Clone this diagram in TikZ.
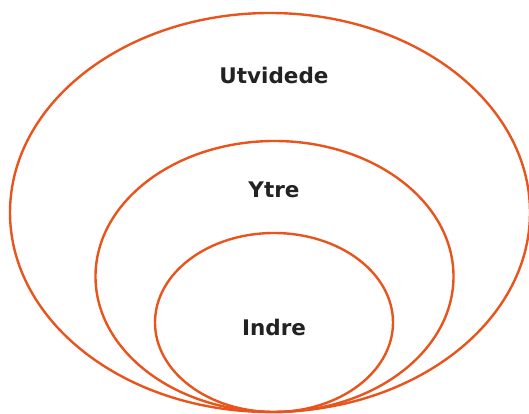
\documentclass[tikz,border=0pt]{standalone}
\usepackage{fontspec}
\setmainfont{DejaVu Sans}
\definecolor{ringc}{HTML}{E8541C}
\definecolor{txtc}{HTML}{222222}
\tikzset{ring/.style={draw=ringc,line width=2.4pt},
 lbl/.style={font=\fontsize{21.5}{24}\selectfont\bfseries,text=txtc,inner sep=0pt}}
\begin{document}
\begin{tikzpicture}[x=1pt,y=-1pt]
\useasboundingbox (0,0) rectangle (529,414);
\draw[ring] (270,212.5) ellipse [x radius=260,y radius=199.5];
\draw[ring] (274.5,276.5) ellipse [x radius=179,y radius=135.5];
\draw[ring] (274,322.5) ellipse [x radius=119,y radius=89.5];
\node[lbl] (u) at (274,75) {Utvidede};
\node[lbl] (y) at (274,190) {Ytre};
\node[lbl] (i) at (274,327) {Indre};
\end{tikzpicture}
\end{document}
